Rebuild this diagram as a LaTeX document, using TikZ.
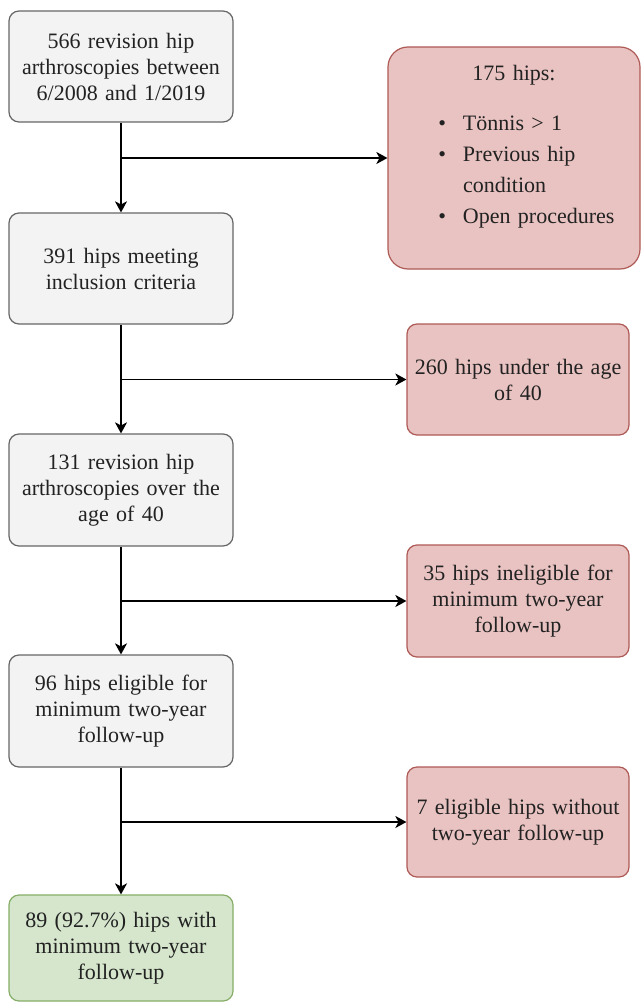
\documentclass[tikz,border=0pt]{standalone}
\usepackage{fontspec}
\setmainfont{Liberation Serif}
\usetikzlibrary{arrows.meta}
\definecolor{greyfill}{HTML}{F3F3F3}
\definecolor{greyline}{HTML}{666666}
\definecolor{redfill}{HTML}{E9C3C1}
\definecolor{redline}{HTML}{AE5A56}
\definecolor{greenfill}{HTML}{D5E6CC}
\definecolor{greenline}{HTML}{86AE68}
\definecolor{txt}{HTML}{222222}
\tikzset{
 box/.style={rectangle, rounded corners=10pt, line width=1.2pt, text width=214pt, align=center, inner sep=0pt, font=\fontsize{22}{26}\selectfont, text=txt},
 greybox/.style={box, draw=greyline, fill=greyfill, minimum width=224pt},
 redbox/.style={box, draw=redline, fill=redfill, minimum width=222pt},
 greenbox/.style={box, draw=greenline, fill=greenfill, minimum width=224pt},
 arr/.style={line width=1.5pt, -{Stealth[length=11pt,width=12pt,inset=3pt]}},
}
\newcommand{\blt}{\leavevmode\llap{\textbullet\hspace{17pt}}}
\begin{document}
\begin{tikzpicture}[x=1pt,y=-1pt]
\fill[white] (0,0) rectangle (641,1003);
\useasboundingbox (0,0) rectangle (641,1003);
% left column
\node[greybox, minimum height=111pt] (b1) at (121,66.5) {566 revision hip arthroscopies between 6/2008 and 1/2019};
\node[greybox, minimum height=111pt] (b2) at (121,268.5) {391 hips meeting\\ inclusion criteria};
\node[greybox, minimum height=112pt] (b3) at (121,490) {131 revision hip\\ arthroscopies over the\\ age of 40};
\node[greybox, minimum height=112pt] (b4) at (121,711) {96 hips eligible for\\ minimum two-year\\ follow-up};
\node[greenbox, minimum height=106pt] (b5) at (121,948) {89 (92.7\%) hips with\\ minimum two-year\\ follow-up};
% right column
\node[redbox, minimum width=252pt, minimum height=222pt, text width=230pt, rounded corners=20pt] (r1) at (514,158) {%
\begin{minipage}{230pt}\centering 175 hips:\par\vspace{19pt}\baselineskip=31pt
\raggedright\leftskip=64pt\parindent=0pt
\blt Tönnis > 1\par
\blt Previous hip\par
condition\par
\blt Open procedures\par\vspace{22pt}\end{minipage}};
\node[redbox, minimum height=111pt] (r2) at (518,379.5) {260 hips under the age\\ of 40};
\node[redbox, minimum height=112pt] (r3) at (518,601) {35 hips ineligible for\\ minimum two-year\\ follow-up};
\node[redbox, minimum height=110pt] (r4) at (518,822) {7 eligible hips without\\ two-year follow-up};
% junctions
\coordinate (j1) at (121,158);
\coordinate (j2) at (121,379.5);
\coordinate (j3) at (121,601);
\coordinate (j4) at (121,822);
% connectors
\draw[arr] (b1) -- (b2);
\draw[arr] (b2) -- (b3);
\draw[arr] (b3) -- (b4);
\draw[arr] (b4) -- (b5);
\draw[arr] (j1) -- (r1.west);
\draw[arr] (j2) -- (r2.west);
\draw[arr] (j3) -- (r3.west);
\draw[arr] (j4) -- (r4.west);
\end{tikzpicture}
\end{document}
